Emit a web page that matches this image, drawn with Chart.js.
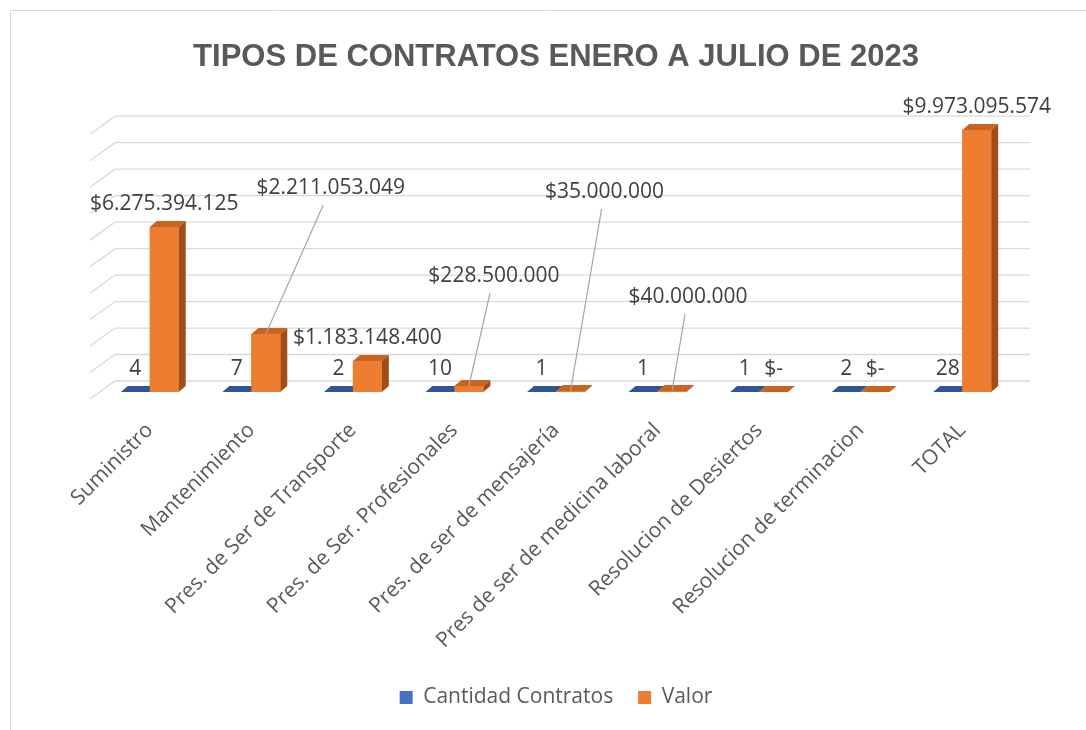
<!DOCTYPE html>
<html lang="es">
<head>
<meta charset="utf-8">
<title>Tipos de contratos enero a julio de 2023</title>
<script src="https://cdn.jsdelivr.net/npm/chart.js@4.4.0/dist/chart.umd.min.js"></script>
<style>
    html, body { margin: 0; padding: 0; background: #fff; }
    #wrap { position: relative; width: 1086px; height: 730px; }
</style>
</head>
<body>
<div id="wrap"><canvas id="chartContratos"></canvas></div>
<script>
// ── Datos ──
const categorias = [
    'Suministro',
    'Mantenimiento',
    'Pres. de Ser de Transporte',
    'Pres. de Ser. Profesionales',
    'Pres. de ser de mensajería',
    'Pres de ser de medicina laboral',
    'Resolucion de Desiertos',
    'Resolucion de terminacion',
    'TOTAL'
];
const cantidadContratos = [4, 7, 2, 10, 1, 1, 1, 2, 28];
const valores = [6275394125, 2211053049, 1183148400, 228500000, 35000000, 40000000, 0, 0, 9973095574];
const EJE_MAX  = 10000000000;
const EJE_PASO = 1000000000;

// ── Estilo ──
const FUENTE = '"Open Sans", "Noto Sans", sans-serif';
const COLORES = [
    { frente: '#4472C4', tapa: '#2F5597', lado: '#2B4A80' },
    { frente: '#ED7D31', tapa: '#C8641F', lado: '#A04D1A' }
];
const PROF_X = 7, PROF_Y = 6;          // profundidad de cada barra
const MURO_X = 16, MURO_Y = 11;        // desplazamiento del muro de fondo
const DIAG_X = -25, DIAG_Y = 18;       // lineas diagonales a la izquierda
const SEP_ETIQUETA = 23;               // distancia etiqueta-tapa

// desplazamiento de etiquetas con línea guía (respecto a la tapa de la barra)
const guiaValor = [null, [65, -146], null, [25, -110], [34, -199], [16, -94], null, null, null];

function formatoPesos(v) {
    if (v === 0) return '$-';
    return '$' + String(v).replace(/\B(?=(\d{3})+(?!\d))/g, '.');
}

function poligono(ctx, pts, color) {
    ctx.beginPath();
    ctx.moveTo(pts[0][0], pts[0][1]);
    for (let i = 1; i < pts.length; i++) ctx.lineTo(pts[i][0], pts[i][1]);
    ctx.closePath();
    ctx.fillStyle = color;
    ctx.fill();
}

// ── Plugin: marco, muro de fondo, caras 3D y etiquetas ──
const barras3D = {
    id: 'barras3D',
    beforeDraw(chart) {
        const ctx = chart.ctx;
        ctx.save();
        ctx.strokeStyle = '#d9d9d9';
        ctx.lineWidth = 1;
        ctx.beginPath();
        ctx.moveTo(10.5, 740);
        ctx.lineTo(10.5, 10.5);
        ctx.lineTo(1100, 10.5);
        ctx.stroke();
        ctx.restore();
    },
    beforeDatasetsDraw(chart) {
        const { ctx, chartArea, scales } = chart;
        const y = scales.y;
        ctx.save();
        ctx.strokeStyle = '#d9d9d9';
        ctx.lineWidth = 1.3;
        y.ticks.forEach(t => {
            const frac = t.value / EJE_MAX;
            const py = y.getPixelForValue(t.value) - MURO_Y - 2 * frac;
            const x0 = chartArea.left + MURO_X;
            ctx.beginPath();
            ctx.moveTo(x0 + DIAG_X, py + DIAG_Y);
            ctx.lineTo(x0, py);
            ctx.lineTo(chartArea.right + MURO_X + 1, py);
            ctx.stroke();
        });
        ctx.restore();
    },
    afterDatasetsDraw(chart) {
        const ctx = chart.ctx;
        const metas = [chart.getDatasetMeta(0), chart.getDatasetMeta(1)];
        ctx.save();
        for (let i = 0; i < categorias.length; i++) {
            metas.forEach((meta, d) => {
                const el = meta.data[i];
                const c = COLORES[d];
                const L = el.x - el.width / 2, R = el.x + el.width / 2;
                const top = Math.min(el.y, el.base), base = el.base;
                // tapa
                poligono(ctx, [[L, top], [R, top], [R + PROF_X, top - PROF_Y], [L + PROF_X, top - PROF_Y]], c.tapa);
                // lado + frente (se repinta para tapar la barra vecina)
                if (base - top > 0.5) {
                    poligono(ctx, [[R, top], [R + PROF_X, top - PROF_Y], [R + PROF_X, base - PROF_Y], [R, base]], c.lado);
                    ctx.fillStyle = c.frente;
                    ctx.fillRect(L, top, R - L, base - top);
                }
            });
        }

        // etiquetas de datos
        ctx.font = '21px ' + FUENTE;
        ctx.fillStyle = '#404040';
        ctx.textAlign = 'center';
        ctx.textBaseline = 'middle';
        metas[0].data.forEach((el, i) => {
            ctx.fillText(String(cantidadContratos[i]), el.x, el.y - SEP_ETIQUETA);
        });
        metas[1].data.forEach((el, i) => {
            const texto = formatoPesos(valores[i]);
            const guia = guiaValor[i];
            if (guia) {
                const lx = el.x + guia[0], ly = el.y + guia[1];
                // línea guía desde la tapa de la barra hasta la etiqueta
                const t = (el.y - (ly + 17)) / (el.y - ly);
                ctx.strokeStyle = '#a6a6a6';
                ctx.lineWidth = 1.2;
                ctx.beginPath();
                ctx.moveTo(el.x, el.y);
                ctx.lineTo(el.x + (lx - el.x) * t, el.y + (ly - el.y) * t);
                ctx.stroke();
                ctx.fillText(texto, lx, ly);
            } else {
                ctx.fillText(texto, el.x, el.y - SEP_ETIQUETA);
            }
        });
        ctx.restore();
    }
};

const ctxContratos = document.getElementById('chartContratos').getContext('2d');
new Chart(ctxContratos, {
    type: 'bar',
    data: {
        labels: categorias,
        datasets: [
            {
                label: 'Cantidad Contratos',
                data: cantidadContratos,
                backgroundColor: COLORES[0].frente,
                barPercentage: 1,
                categoryPercentage: 0.57
            },
            {
                label: 'Valor',
                data: valores,
                backgroundColor: COLORES[1].frente,
                barPercentage: 1,
                categoryPercentage: 0.57
            }
        ]
    },
    options: {
        responsive: true,
        maintainAspectRatio: false,
        animation: false,
        layout: { padding: { left: 99, right: 73, top: 0, bottom: 12 } },
        plugins: {
            title: {
                display: true,
                text: 'TIPOS DE CONTRATOS ENERO A JULIO DE 2023',
                color: '#595959',
                font: { family: '"Liberation Sans", sans-serif', size: 31, weight: 'bold' },
                padding: { top: 39, bottom: 53 }
            },
            legend: {
                position: 'bottom',
                labels: {
                    color: '#595959',
                    font: { family: FUENTE, size: 21 },
                    boxWidth: 13,
                    boxHeight: 13,
                    padding: 25
                }
            },
            tooltip: { enabled: false }
        },
        scales: {
            x: {
                grid: { display: false, drawTicks: false },
                border: { display: false },
                ticks: {
                    color: '#595959',
                    font: { family: FUENTE, size: 21 },
                    minRotation: 45,
                    maxRotation: 45,
                    autoSkip: false,
                    padding: 26
                },
                afterFit(scale) { scale.height = 270; }
            },
            y: {
                display: false,
                min: 0,
                max: EJE_MAX,
                ticks: { stepSize: EJE_PASO }
            }
        }
    },
    plugins: [barras3D]
});
</script>
</body>
</html>
